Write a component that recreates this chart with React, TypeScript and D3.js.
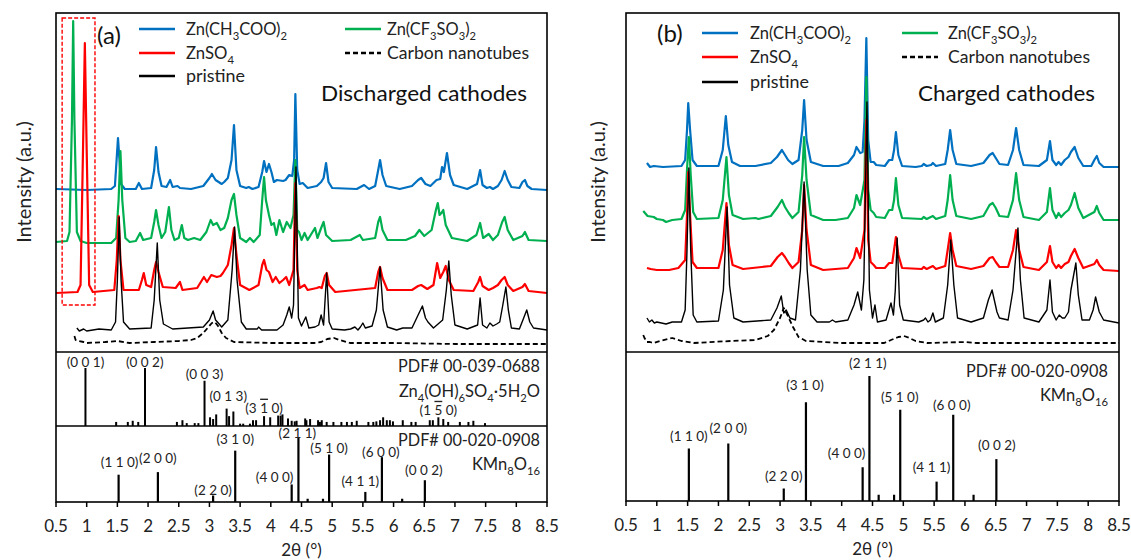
import React from "react";
import * as d3 from "d3";

const FONT = "Lato, 'Open Sans', sans-serif";

// ---------- axis ----------
const TICKS = [0.5, 1, 1.5, 2, 2.5, 3, 3.5, 4, 4.5, 5, 5.5, 6, 6.5, 7, 7.5, 8, 8.5];
const TICK_LABELS = ["0.5", "1", "1.5", "2", "2.5", "3", "3.5", "4", "4.5", "5", "5.5", "6", "6.5", "7", "7.5", "8", "8.5"];
const X_TITLE = "2θ (°)";
const Y_TITLE = "Intensity (a.u.)";

// ---------- series ----------
// order: acetate, triflate, sulfate, pristine, carbon nanotubes
const SERIES_NAMES = ["Zn(CH_{3}COO)_{2}", "Zn(CF_{3}SO_{3})_{2}", "ZnSO_{4}", "pristine", "Carbon nanotubes"];
const SERIES_COLORS = ["#0070C0", "#00B050", "#FF0000", "#000000", "#000000"];
const OFFSETS_A = [163, 110, 59, 22, 9];
const OFFSETS_B = [185, 132, 82, 29, 9];

type P = [number, number];

// Panel (a): discharged cathodes  [2θ, intensity above own baseline]
const A_ACETATE: P[] = [[0.5,0],[1.0,-1],[1.4,0],[1.46,3],[1.51,51],[1.56,5],[1.62,0],[1.8,0],[1.85,6],[1.9,0],[2.05,1],[2.1,19],[2.13,42],[2.17,17],[2.22,3],[2.3,2],[2.36,9],[2.4,2],[2.48,3],[2.52,1],[2.7,0],[2.9,3],[3.0,11],[3.04,15],[3.1,9],[3.15,7],[3.2,5],[3.24,7],[3.3,11],[3.36,29],[3.4,64],[3.44,19],[3.5,3],[3.6,1],[3.64,2],[3.7,0],[3.8,2],[3.86,17],[3.89,28],[3.93,17],[3.97,25],[4.01,17],[4.05,7],[4.1,9],[4.2,8],[4.24,9],[4.3,14],[4.35,13],[4.38,29],[4.4,95],[4.43,19],[4.47,5],[4.52,6],[4.6,1],[4.75,3],[4.82,7],[4.86,11],[4.9,26],[4.94,7],[5.0,1],[5.4,0],[5.52,4],[5.6,0],[5.7,3],[5.75,19],[5.78,29],[5.82,14],[5.88,3],[6.1,0],[6.3,3],[6.4,9],[6.45,11],[6.52,5],[6.6,3],[6.7,9],[6.76,10],[6.79,22],[6.82,17],[6.87,36],[6.92,14],[6.98,4],[7.2,0],[7.36,5],[7.41,19],[7.45,4],[7.52,1],[7.57,2],[7.62,0],[7.7,3],[7.76,9],[7.81,18],[7.86,9],[7.92,2],[8.05,1],[8.1,7],[8.14,9],[8.18,3],[8.25,0],[8.5,-1]];
const A_TRIFLATE: P[] = [[0.5,0],[0.68,1],[0.72,10],[0.76,122],[0.78,221],[0.8,122],[0.84,10],[0.9,1],[1.0,-1],[1.4,-1],[1.48,4],[1.52,42],[1.55,91],[1.58,42],[1.63,4],[1.7,0],[1.8,1],[1.87,9],[1.92,2],[2.05,4],[2.1,20],[2.13,32],[2.17,17],[2.22,4],[2.28,10],[2.34,35],[2.38,12],[2.43,2],[2.5,4],[2.55,17],[2.59,4],[2.65,2],[2.75,4],[2.85,2],[2.95,10],[3.02,22],[3.06,17],[3.12,19],[3.18,12],[3.24,14],[3.3,24],[3.36,42],[3.4,48],[3.44,27],[3.5,4],[3.6,0],[3.66,4],[3.72,0],[3.82,7],[3.86,42],[3.89,65],[3.92,42],[3.97,27],[4.01,17],[4.05,19],[4.09,7],[4.14,22],[4.2,10],[4.26,20],[4.32,14],[4.37,27],[4.4,82],[4.43,12],[4.46,10],[4.5,2],[4.55,9],[4.6,2],[4.67,9],[4.72,14],[4.76,4],[4.82,14],[4.86,20],[4.9,7],[5.0,1],[5.3,2],[5.45,7],[5.5,2],[5.7,4],[5.75,20],[5.78,25],[5.82,12],[5.9,2],[6.2,2],[6.35,6],[6.42,12],[6.5,6],[6.62,12],[6.69,32],[6.72,39],[6.75,27],[6.78,29],[6.81,32],[6.85,17],[6.95,4],[7.2,1],[7.35,7],[7.41,19],[7.46,4],[7.55,8],[7.62,2],[7.7,7],[7.77,20],[7.81,25],[7.86,12],[7.95,2],[8.1,6],[8.14,10],[8.2,2],[8.5,1]];
const A_SULFATE: P[] = [[0.5,0],[0.85,1],[0.9,8],[0.94,143],[0.97,250],[1.0,143],[1.04,8],[1.1,1],[1.45,3],[1.49,33],[1.52,77],[1.55,33],[1.6,3],[1.85,3],[1.9,13],[1.93,20],[1.97,8],[2.05,6],[2.1,23],[2.13,31],[2.17,21],[2.24,6],[2.45,5],[2.52,11],[2.56,3],[2.8,5],[2.88,13],[2.91,16],[2.96,11],[3.03,18],[3.12,16],[3.18,17],[3.22,20],[3.3,28],[3.36,48],[3.4,65],[3.44,38],[3.5,8],[3.65,3],[3.8,8],[3.86,28],[3.89,33],[3.93,23],[3.97,21],[4.03,11],[4.08,16],[4.14,10],[4.2,13],[4.25,16],[4.3,8],[4.37,23],[4.4,110],[4.43,23],[4.47,5],[4.55,8],[4.6,3],[4.75,5],[4.79,6],[4.83,5],[4.88,17],[4.91,20],[4.95,8],[5.05,1],[5.7,5],[5.75,21],[5.78,26],[5.82,15],[5.9,3],[6.3,3],[6.4,7],[6.45,8],[6.55,4],[6.65,8],[6.71,30],[6.76,15],[6.81,21],[6.85,27],[6.9,13],[6.98,3],[7.3,2],[7.38,11],[7.41,16],[7.45,7],[7.55,3],[7.62,5],[7.7,8],[7.76,13],[7.81,16],[7.86,8],[7.95,2],[8.1,6],[8.14,9],[8.2,2],[8.5,0]];
const A_PRISTINE: P[] = [[0.84,2],[0.88,-1],[0.95,1],[1.0,-1],[1.1,0],[1.2,1],[1.4,0],[1.47,8],[1.5,50],[1.53,113],[1.56,50],[1.6,8],[1.7,1],[2.05,2],[2.1,30],[2.15,87],[2.19,30],[2.25,6],[2.4,1],[2.9,3],[3.0,10],[3.06,19],[3.1,10],[3.13,8],[3.2,3],[3.3,10],[3.37,60],[3.41,103],[3.45,50],[3.52,8],[3.6,1],[3.78,1],[3.8,3],[3.85,0],[4.1,0],[4.2,5],[4.26,15],[4.3,23],[4.34,12],[4.37,25],[4.41,163],[4.45,12],[4.5,4],[4.57,13],[4.62,2],[4.72,3],[4.78,5],[4.82,15],[4.86,5],[4.91,57],[4.95,8],[5.0,1],[5.2,0],[5.3,1],[5.37,3],[5.42,0],[5.46,3],[5.5,7],[5.54,2],[5.65,4],[5.72,20],[5.78,63],[5.83,20],[5.9,3],[6.05,0],[6.15,2],[6.3,2],[6.4,15],[6.47,24],[6.52,12],[6.56,8],[6.65,2],[6.8,10],[6.86,40],[6.9,69],[6.94,35],[7.0,5],[7.2,1],[7.37,5],[7.41,32],[7.45,5],[7.52,2],[7.57,7],[7.62,4],[7.68,6],[7.73,8],[7.78,25],[7.83,43],[7.87,20],[7.92,2],[8.05,1],[8.12,12],[8.17,20],[8.22,8],[8.28,2],[8.5,0]];
const A_CNT: P[] = [[0.8,7],[0.82,3],[0.86,2],[0.95,1],[1.0,0],[1.3,1],[1.5,2],[1.7,0],[2.1,1],[2.5,2],[2.7,3],[2.8,5],[2.9,10],[2.97,15],[3.04,20],[3.09,21],[3.14,17],[3.2,10],[3.27,5],[3.4,1],[4.0,0],[4.7,0],[4.82,1],[4.92,4],[5.03,5],[5.12,3],[5.29,0],[6.0,0],[7.0,-1],[8.5,-1]];

// Panel (b): charged cathodes
const B_ACETATE: P[] = [[0.84,4],[0.89,0],[0.95,1],[1.1,0],[1.4,1],[1.46,7],[1.49,37],[1.51,64],[1.54,37],[1.58,7],[1.65,1],[2.0,1],[2.07,17],[2.12,51],[2.16,22],[2.22,5],[2.35,1],[2.6,1],[2.85,4],[2.95,10],[3.03,17],[3.08,12],[3.13,7],[3.2,3],[3.3,7],[3.36,37],[3.39,67],[3.43,27],[3.5,5],[3.7,1],[3.95,1],[4.1,4],[4.2,12],[4.24,20],[4.3,14],[4.34,15],[4.37,47],[4.4,129],[4.43,27],[4.47,5],[4.52,5],[4.56,2],[4.7,1],[4.77,7],[4.82,7],[4.85,17],[4.88,35],[4.92,12],[4.98,1],[5.2,0],[5.3,1],[5.33,3],[5.38,1],[5.45,2],[5.48,4],[5.53,1],[5.68,3],[5.72,17],[5.76,37],[5.8,17],[5.86,3],[6.1,1],[6.3,4],[6.4,12],[6.45,14],[6.5,9],[6.56,3],[6.7,2],[6.78,17],[6.83,39],[6.88,17],[6.95,2],[7.2,1],[7.33,7],[7.38,26],[7.42,7],[7.48,2],[7.52,5],[7.56,2],[7.62,7],[7.68,10],[7.72,15],[7.78,20],[7.84,9],[7.92,1],[8.05,1],[8.1,7],[8.14,11],[8.18,4],[8.25,0],[8.5,0]];
const B_TRIFLATE: P[] = [[0.78,9],[0.85,4],[0.95,3],[1.0,1],[1.1,0],[1.15,-2],[1.25,0],[1.4,1],[1.46,10],[1.49,50],[1.52,83],[1.55,45],[1.59,8],[1.65,1],[2.0,2],[2.07,20],[2.13,63],[2.17,25],[2.23,5],[2.4,1],[2.6,2],[2.65,1],[2.85,4],[2.96,13],[3.03,20],[3.08,13],[3.14,7],[3.2,2],[3.3,8],[3.36,45],[3.39,83],[3.43,40],[3.5,5],[3.7,0],[3.9,0],[4.1,2],[4.2,12],[4.24,25],[4.3,15],[4.37,40],[4.4,143],[4.43,30],[4.47,10],[4.52,7],[4.56,3],[4.7,2],[4.77,10],[4.82,10],[4.85,20],[4.88,42],[4.92,15],[4.98,2],[5.3,1],[5.33,3],[5.38,1],[5.48,4],[5.53,1],[5.68,4],[5.72,20],[5.76,45],[5.8,20],[5.86,4],[6.1,1],[6.3,4],[6.4,15],[6.45,17],[6.5,12],[6.56,4],[6.7,3],[6.78,20],[6.83,47],[6.88,20],[6.95,3],[7.2,0],[7.33,8],[7.38,32],[7.42,10],[7.48,2],[7.52,7],[7.56,3],[7.62,7],[7.68,10],[7.72,15],[7.78,27],[7.84,12],[7.92,2],[8.1,8],[8.14,14],[8.18,7],[8.25,0],[8.5,0]];
const B_SULFATE: P[] = [[0.84,2],[0.9,1],[1.0,0],[1.2,0],[1.35,2],[1.46,10],[1.49,55],[1.51,98],[1.54,55],[1.58,8],[1.65,2],[2.0,2],[2.07,20],[2.13,67],[2.17,25],[2.23,5],[2.4,1],[2.85,4],[2.96,13],[3.03,17],[3.08,13],[3.14,7],[3.2,2],[3.3,8],[3.36,40],[3.39,85],[3.43,40],[3.5,5],[3.7,0],[4.1,2],[4.2,12],[4.24,22],[4.3,12],[4.37,40],[4.4,150],[4.43,30],[4.47,8],[4.52,5],[4.56,2],[4.7,2],[4.77,7],[4.82,7],[4.85,20],[4.88,33],[4.92,15],[4.98,2],[5.3,1],[5.33,3],[5.38,1],[5.48,4],[5.53,1],[5.68,4],[5.72,20],[5.76,37],[5.8,20],[5.86,4],[6.1,1],[6.3,4],[6.4,12],[6.45,13],[6.5,8],[6.56,3],[6.7,3],[6.78,20],[6.83,40],[6.88,20],[6.95,3],[7.2,0],[7.33,8],[7.38,24],[7.42,8],[7.48,2],[7.52,5],[7.56,2],[7.62,6],[7.68,8],[7.72,14],[7.78,21],[7.84,12],[7.92,2],[8.1,6],[8.14,10],[8.18,5],[8.25,0],[8.5,-1]];
const B_PRISTINE: P[] = [[0.84,5],[0.88,1],[0.92,3],[0.96,0],[1.0,1],[1.15,-1],[1.25,1],[1.4,1],[1.46,13],[1.49,73],[1.52,155],[1.55,73],[1.59,8],[1.65,1],[2.0,2],[2.08,33],[2.14,116],[2.18,38],[2.25,5],[2.4,1],[2.85,3],[2.95,15],[3.02,27],[3.06,10],[3.1,13],[3.16,5],[3.25,3],[3.33,53],[3.39,141],[3.44,53],[3.5,8],[3.6,1],[3.8,1],[3.85,3],[3.9,1],[4.1,3],[4.2,18],[4.26,31],[4.32,13],[4.36,43],[4.41,221],[4.45,33],[4.5,5],[4.54,18],[4.58,1],[4.72,3],[4.8,20],[4.84,8],[4.87,33],[4.9,85],[4.94,18],[5.0,3],[5.25,1],[5.33,3],[5.36,5],[5.4,1],[5.44,3],[5.48,10],[5.52,1],[5.65,5],[5.72,38],[5.77,83],[5.82,38],[5.88,5],[6.1,1],[6.2,3],[6.3,5],[6.38,23],[6.44,33],[6.52,11],[6.56,5],[6.7,3],[6.78,33],[6.86,95],[6.9,43],[6.96,5],[7.2,1],[7.33,13],[7.38,43],[7.42,11],[7.48,3],[7.53,8],[7.58,5],[7.62,5],[7.68,11],[7.72,33],[7.8,60],[7.84,28],[7.9,3],[8.02,3],[8.08,13],[8.12,26],[8.18,11],[8.25,3],[8.5,0]];
const B_CNT: P[] = [[0.78,8],[0.8,5],[0.84,1],[0.89,1],[0.95,0],[1.05,2],[1.25,5],[1.4,2],[1.6,0],[2.2,2],[2.6,3],[2.8,7],[2.9,13],[3.0,25],[3.06,35],[3.12,28],[3.21,16],[3.3,6],[3.42,2],[4.0,0],[4.6,0],[4.69,0],[4.8,3],[4.92,6],[5.01,7],[5.1,5],[5.2,2],[5.39,0],[6.0,1],[6.2,0],[8.5,0]];

// ---------- reference patterns (sticks) ----------
const ZN_PDF = "PDF# 00-039-0688";
const ZN_FORMULA = "Zn_{4}(OH)_{6}SO_{4}·5H_{2}O";
const ZN_STICKS: P[] = [[0.98,100],[1.48,7],[1.67,7],[1.75,9],[1.84,7],[1.95,100],[2.47,7],[2.56,10],[2.63,5],[2.76,5],[2.82,5],[2.92,78],[3.01,15],[3.06,12],[3.11,20],[3.28,30],[3.32,17],[3.39,25],[3.5,4],[3.55,4],[3.66,4],[3.71,10],[3.76,10],[3.89,17],[3.99,15],[4.12,18],[4.16,18],[4.19,20],[4.28,13],[4.34,9],[4.39,8],[4.42,9],[4.56,13],[4.58,10],[4.64,12],[4.77,10],[4.8,7],[4.83,10],[4.91,7],[5.02,7],[5.15,7],[5.24,7],[5.32,7],[5.4,9],[5.59,7],[5.67,7],[5.72,8],[5.78,10],[5.83,15],[5.89,10],[5.94,10],[5.99,8],[6.15,10],[6.29,7],[6.36,7],[6.59,10],[6.64,10],[6.73,15],[6.81,12],[6.89,7],[7.08,7],[7.22,7],[7.3,9],[7.49,5]];
const ZN_HKL_AT = [0.98, 1.95, 2.92, 3.28, 3.89, 6.73];
// "~" marks a barred (negative) index
const ZN_HKL = ["(0 0 1)", "(0 0 2)", "(0 0 3)", "(0 1 3)", "(3 ~1 0)", "(1 ~5 0)"];

const KMN_PDF = "PDF# 00-020-0908";
const KMN_FORMULA = "KMn_{8}O_{16}";
const KMN_STICKS: P[] = [[1.52,42],[2.16,46],[3.06,10],[3.42,79],[4.34,27],[4.45,100],[4.6,5],[4.85,5],[4.95,73],[5.54,15.5],[5.81,69],[6.14,5],[6.51,33.5]];
const KMN_HKL = ["(1 1 0)", "(2 0 0)", "(2 2 0)", "(3 1 0)", "(4 0 0)", "(2 1 1)", "", "", "(5 1 0)", "(4 1 1)", "(6 0 0)", "", "(0 0 2)"];

// ---------- layout (not data) ----------
const ZN_LBL_OFF = [[0, 6], [-0.3, 6], [0, 6], [1.6, 12], [0, 8], [0, 7]];
const KMN_LBL_OFF_A = [[1, 12], [0, 14], [0, 5], [0, 11], [-17, 7], [-1, 4], [0, 0], [0, 0], [0, 6], [-5, 10], [-1, 5], [0, 0], [-1, 10]];
const KMN_LBL_OFF_B = [[0, 12], [0, 15], [0, 12], [-1, 17], [-16, 14], [-1.5, 13], [0, 0], [0, 0], [-0.5, 12], [-5, 14], [-1.5, 9], [0, 0], [0.5, 14]];

function Rich({ text, fontSize, ...rest }: any) {
  const parts = text.split(/(_\{[^}]*\})/).filter((p: string) => p.length);
  let sub = false;
  const sh = fontSize * 0.3;
  const kids = parts.map((p: string, k: number) => {
    if (p.startsWith("_{")) {
      const el = (
        <tspan key={k} dy={sub ? 0 : sh} fontSize={fontSize * 0.68}>
          {p.slice(2, -1)}
        </tspan>
      );
      sub = true;
      return el;
    }
    const el = (
      <tspan key={k} dy={sub ? -sh : 0}>
        {p}
      </tspan>
    );
    sub = false;
    return el;
  });
  return (
    <text fontSize={fontSize} {...rest}>
      {kids}
    </text>
  );
}

function HklText({ label, ...rest }: any) {
  const parts = label.split(/(~.)/).filter((p: string) => p.length);
  return (
    <text {...rest}>
      {parts.map((p: string, k: number) =>
        p.startsWith("~") ? (
          <tspan key={k} style={{ textDecoration: "overline" }}>
            {p.slice(1)}
          </tspan>
        ) : (
          <tspan key={k}>{p}</tspan>
        )
      )}
    </text>
  );
}

type PanelCfg = {
  left: number;
  right: number;
  top: number;
  sep: number;
  bottom: number;
  traces: P[][];
  offsets: number[];
  letter: string;
  letterX: number;
  letterY: number;
  title: string;
  titleX: number;
  titleLen: number;
  yLabelX: number;
  legend: { l1: number; t1: number; l2: number; t2: number; rows: number[] };
};

function Panel({ c, children }: { c: PanelCfg; children?: any }) {
  const x = d3.scaleLinear().domain([0.5, 8.5]).range([c.left, c.right]);
  const y = d3.scaleLinear().domain([0, 340]).range([c.sep, c.sep - 340]);
  const drawOrder = [4, 0, 1, 2, 3];
  const lw = [2.2, 2.2, 2.2, 1.4, 1.8];
  const leg = c.legend;
  const legendItems = [
    { i: 0, lx: leg.l1, tx: leg.t1, row: 0 },
    { i: 2, lx: leg.l1, tx: leg.t1, row: 1 },
    { i: 3, lx: leg.l1, tx: leg.t1, row: 2 },
    { i: 1, lx: leg.l2, tx: leg.t2, row: 0 },
    { i: 4, lx: leg.l2, tx: leg.t2, row: 1 },
  ];
  const legLens = [101, 89, 48, 59, 142];
  return (
    <g>
      {drawOrder.map((i) => {
        const line = d3
          .line<P>()
          .x((d) => x(d[0]))
          .y((d) => y(d[1] + c.offsets[i]));
        return (
          <path
            key={i}
            d={line(c.traces[i]) || ""}
            fill="none"
            stroke={SERIES_COLORS[i]}
            strokeWidth={lw[i]}
            strokeDasharray={i === 4 ? "5,3" : undefined}
            strokeLinejoin="round"
          />
        );
      })}
      {children && children(x)}
      {/* frame */}
      <rect x={c.left} y={c.top} width={c.right - c.left} height={c.bottom - c.top} fill="none" stroke="#000" strokeWidth={1.6} />
      <line x1={c.left} x2={c.right} y1={c.sep} y2={c.sep} stroke="#000" strokeWidth={1.6} />
      {TICKS.map((t, k) => (
        <g key={k}>
          <line x1={x(t)} x2={x(t)} y1={c.bottom} y2={c.bottom + 5} stroke="#000" strokeWidth={1.5} />
          <text x={x(t)} y={c.bottom + 30} textAnchor="middle" fontSize={17} fill="#222">
            {TICK_LABELS[k]}
          </text>
        </g>
      ))}
      <text x={(c.left + c.right) / 2} y={c.bottom + 54} textAnchor="middle" fontSize={17} fill="#222">
        {X_TITLE}
      </text>
      <text transform={`translate(${c.yLabelX},182) rotate(-90)`} textAnchor="middle" dy="0.35em" fontSize={20} fill="#222">
        {Y_TITLE}
      </text>
      {/* legend */}
      {legendItems.map((it) => (
        <g key={it.i}>
          <line
            x1={it.lx}
            x2={it.lx + 36}
            y1={leg.rows[it.row]}
            y2={leg.rows[it.row]}
            stroke={SERIES_COLORS[it.i]}
            strokeWidth={2.5}
            strokeDasharray={it.i === 4 ? "5,3" : undefined}
          />
          <Rich
            text={SERIES_NAMES[it.i]}
            fontSize={17}
            x={it.tx}
            y={leg.rows[it.row] + 6}
            fill="#222"
            textLength={legLens[it.i]}
            lengthAdjust="spacingAndGlyphs"
          />
        </g>
      ))}
      <text x={c.letterX} y={c.letterY} fontSize={24} fill="#111">
        {c.letter}
      </text>
      <text x={c.titleX} y={101} fontSize={21} fill="#111" textLength={c.titleLen} lengthAdjust="spacingAndGlyphs">
        {c.title}
      </text>
    </g>
  );
}

function Sticks({ x, data, base, h100, labels, labelAt, offs, width }: any) {
  const ys = d3.scaleLinear().domain([0, 100]).range([base, base - h100]);
  const pos = labelAt || data.map((d: P) => d[0]);
  return (
    <g>
      {data.map((d: P, k: number) => (
        <line key={k} x1={x(d[0])} x2={x(d[0])} y1={ys(0)} y2={ys(d[1])} stroke="#000" strokeWidth={width} />
      ))}
      {labels.map((l: string, k: number) => {
        if (!l) return null;
        const th = pos[k];
        const st = data.find((d: P) => Math.abs(d[0] - th) < 1e-6);
        const top = ys(st ? st[1] : 0);
        return (
          <HklText
            key={"l" + k}
            label={l}
            x={x(th) + offs[k][0]}
            y={top - offs[k][1] + 4.5}
            textAnchor="middle"
            fontSize={13.5}
            fill="#222"
          />
        );
      })}
    </g>
  );
}

const CFG_A: PanelCfg = {
  left: 56,
  right: 547,
  top: 13,
  sep: 352,
  bottom: 502,
  traces: [A_ACETATE, A_TRIFLATE, A_SULFATE, A_PRISTINE, A_CNT],
  offsets: OFFSETS_A,
  letter: "(a)",
  letterX: 97,
  letterY: 44,
  title: "Discharged cathodes",
  titleX: 321,
  titleLen: 206,
  yLabelX: 24,
  legend: { l1: 139, t1: 186, l2: 345, t2: 387, rows: [29, 53, 76] },
};

const CFG_B: PanelCfg = {
  left: 626,
  right: 1119,
  top: 13,
  sep: 352,
  bottom: 501,
  traces: [B_ACETATE, B_TRIFLATE, B_SULFATE, B_PRISTINE, B_CNT],
  offsets: OFFSETS_B,
  letter: "(b)",
  letterX: 657,
  letterY: 42,
  title: "Charged cathodes",
  titleX: 918,
  titleLen: 177,
  yLabelX: 598,
  legend: { l1: 702, t1: 750, l2: 902, t2: 948, rows: [33, 57, 82] },
};

export default function App() {
  const yA = d3.scaleLinear().domain([0, 340]).range([352, 12]);
  return (
    <svg
      width={1131}
      height={560}
      style={{ position: "absolute", left: 0, top: 0, display: "block" }}
      fontFamily={FONT}
    >
      <rect width={1131} height={560} fill="#fff" />
      <Panel c={CFG_A}>
        {(x: any) => (
          <g>
            <rect
              x={x(0.6)}
              y={yA(334)}
              width={x(1.135) - x(0.6)}
              height={yA(47) - yA(334)}
              fill="none"
              stroke="#FF0000"
              strokeWidth={1.4}
              strokeDasharray="4,2"
            />
            <line x1={56} x2={547} y1={426} y2={426} stroke="#000" strokeWidth={1.6} />
            <Sticks x={x} data={ZN_STICKS} base={426} h100={58} labels={ZN_HKL} labelAt={ZN_HKL_AT} offs={ZN_LBL_OFF} width={2} />
            <Sticks x={x} data={KMN_STICKS} base={502} h100={65} labels={KMN_HKL} offs={KMN_LBL_OFF_A} width={2.2} />
            <text x={540} y={372} textAnchor="end" fontSize={16.5} fill="#222" textLength={142} lengthAdjust="spacingAndGlyphs">
              {ZN_PDF}
            </text>
            <Rich text={ZN_FORMULA} x={540} y={397} textAnchor="end" fontSize={16.5} fill="#222" />
            <text x={540} y={446} textAnchor="end" fontSize={16.5} fill="#222" textLength={142} lengthAdjust="spacingAndGlyphs">
              {KMN_PDF}
            </text>
            <Rich text={KMN_FORMULA} x={540} y={470} textAnchor="end" fontSize={16.5} fill="#222" />
          </g>
        )}
      </Panel>
      <Panel c={CFG_B}>
        {(x: any) => (
          <g>
            <Sticks x={x} data={KMN_STICKS} base={501} h100={125} labels={KMN_HKL} offs={KMN_LBL_OFF_B} width={2.2} />
            <text x={1108} y={377} textAnchor="end" fontSize={16.5} fill="#222" textLength={142} lengthAdjust="spacingAndGlyphs">
              {KMN_PDF}
            </text>
            <Rich text={KMN_FORMULA} x={1108} y={401} textAnchor="end" fontSize={16.5} fill="#222" />
          </g>
        )}
      </Panel>
    </svg>
  );
}
